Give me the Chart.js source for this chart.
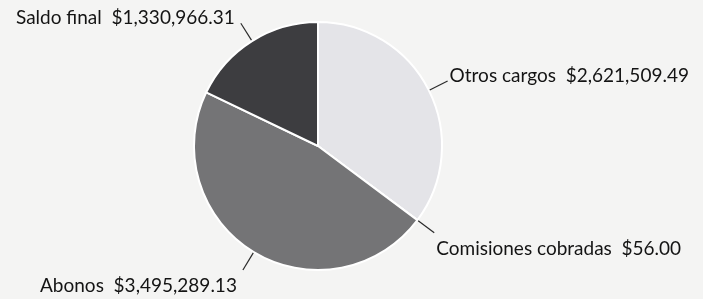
<!DOCTYPE html>
<html>
<head>
<meta charset="utf-8">
<script src="https://cdn.jsdelivr.net/npm/chart.js@4"></script>
<style>
  html, body { margin: 0; padding: 0; background: #f4f4f3; }
  #wrap { width: 703px; height: 299px; }
</style>
</head>
<body>
<div id="wrap"><canvas id="pieChart"></canvas></div>
<script>
/* Pie: saldo breakdown with outside labels. */
const labels = ['Otros cargos', 'Comisiones cobradas', 'Abonos', 'Saldo final'];
const values = [2621509.49, 56.00, 3495289.13, 1330966.31];
const colors = ['#e4e4e8', '#8a8a8c', '#747476', '#3d3d40'];

const money = (v) => '$' + v.toLocaleString('en-US', { minimumFractionDigits: 2, maximumFractionDigits: 2 });

// draws leader line + label for every slice
const outsideLabels = {
    id: 'outsideLabels',
    afterDatasetsDraw(chart) {
        const ctx = chart.ctx;
        const arcs = chart.getDatasetMeta(0).data;
        ctx.save();
        ctx.font = '19px Lato, "Open Sans", sans-serif';
        ctx.fillStyle = '#141414';
        ctx.strokeStyle = '#2a2a2a';
        ctx.lineWidth = 1.2;
        arcs.forEach((arc, i) => {
            const p = arc.getProps(['x', 'y', 'startAngle', 'endAngle', 'outerRadius'], true);
            const mid = (p.startAngle + p.endAngle) / 2;
            const cx = Math.cos(mid), cy = Math.sin(mid);
            const x1 = p.x + cx * (p.outerRadius + 1), y1 = p.y + cy * (p.outerRadius + 1);
            const x2 = p.x + cx * (p.outerRadius + 21), y2 = p.y + cy * (p.outerRadius + 21);
            ctx.beginPath();
            ctx.moveTo(x1, y1);
            ctx.lineTo(x2, y2);
            ctx.stroke();
            const text = labels[i] + '  ' + money(values[i]);
            ctx.textAlign = cx >= 0 ? 'left' : 'right';
            ctx.textBaseline = 'alphabetic';
            const tx = cx >= 0 ? x2 + 2 : x2 - 6;
            const ty = cy >= 0 ? y2 + 22 : y2 + 1;
            ctx.fillText(text, tx, ty);
        });
        ctx.restore();
    },
};

new Chart(document.getElementById('pieChart'), {
    type: 'pie',
    data: {
        labels: labels,
        datasets: [{
            data: values,
            backgroundColor: colors,
            borderColor: '#ffffff',
            borderWidth: 2,
        }],
    },
    options: {
        responsive: true,
        maintainAspectRatio: false,
        animation: false,
        layout: { padding: { top: 21, bottom: 28, left: 193, right: 260 } },
        plugins: { legend: { display: false }, tooltip: { enabled: false } },
    },
    plugins: [outsideLabels],
});
</script>
</body>
</html>
